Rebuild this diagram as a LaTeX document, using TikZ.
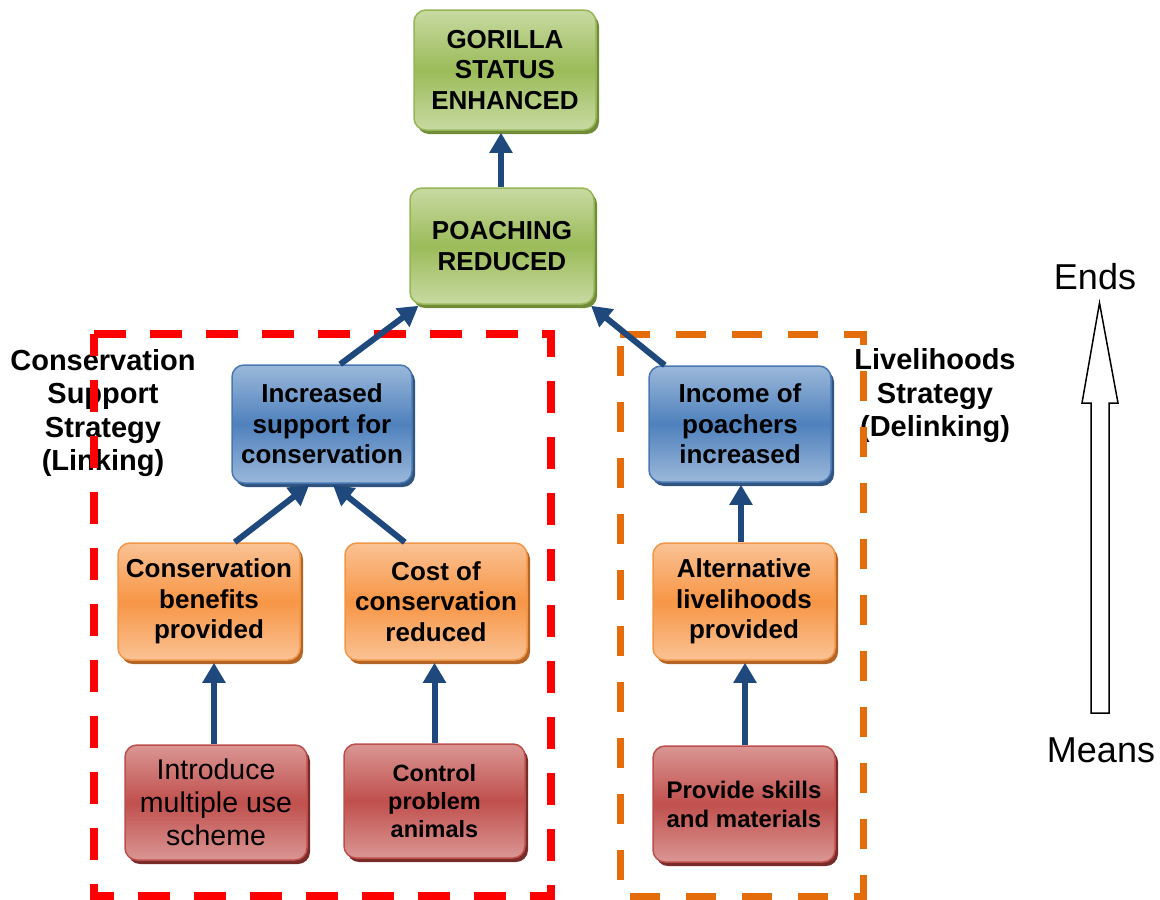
\documentclass[tikz,border=0pt]{standalone}
\usepackage{fontspec}
\setmainfont{Liberation Sans}
\usetikzlibrary{arrows.meta,shadows,calc}

\definecolor{gtop}{RGB}{200,218,162}
\definecolor{gmid}{RGB}{155,187,89}
\definecolor{gline}{RGB}{150,182,86}
\definecolor{gshade}{RGB}{112,140,56}
\definecolor{btop}{RGB}{155,184,218}
\definecolor{bmid}{RGB}{79,129,189}
\definecolor{bline}{RGB}{72,120,178}
\definecolor{bshade}{RGB}{50,84,128}
\definecolor{otop}{RGB}{250,194,148}
\definecolor{omid}{RGB}{247,150,70}
\definecolor{oline}{RGB}{240,150,72}
\definecolor{oshade}{RGB}{180,100,36}
\definecolor{rtop}{RGB}{218,150,148}
\definecolor{rmid}{RGB}{192,80,77}
\definecolor{rline}{RGB}{188,78,75}
\definecolor{rshade}{RGB}{120,44,42}
\definecolor{arrowblue}{RGB}{31,73,125}
\definecolor{linkred}{RGB}{255,0,0}
\definecolor{delinkorange}{RGB}{228,108,10}

\begin{document}
\begin{tikzpicture}[x=1pt,y=-1pt,
  box/.style={rounded corners=12pt, minimum width=182pt, minimum height=117pt,
    align=center, inner sep=2pt, line width=1.5pt,
    font=\bfseries\fontsize{26}{30.5}\selectfont},
  greenbox/.style={box, draw=gline, top color=gtop, bottom color=gtop, middle color=gmid,
    drop shadow={shadow xshift=3pt, shadow yshift=-4pt, opacity=1, fill=gshade}},
  bluebox/.style={box, draw=bline, top color=btop, bottom color=btop, middle color=bmid,
    drop shadow={shadow xshift=3pt, shadow yshift=-4pt, opacity=1, fill=bshade}},
  orangebox/.style={box, draw=oline, top color=otop, bottom color=otop, middle color=omid,
    drop shadow={shadow xshift=3pt, shadow yshift=-4pt, opacity=1, fill=oshade}},
  redbox/.style={box, draw=rline, top color=rtop, bottom color=rtop, middle color=rmid,
    drop shadow={shadow xshift=3pt, shadow yshift=-4pt, opacity=1, fill=rshade}},
  conn/.style={line width=6pt, draw=arrowblue, -{Triangle[width=22pt,length=20pt]}},
  sidelabel/.style={align=center, inner sep=0pt, font=\bfseries\fontsize{29}{33.5}\selectfont},
  scalelabel/.style={inner sep=0pt, font=\fontsize{36}{40}\selectfont}
]
\useasboundingbox (0,0) rectangle (1160,900);

% strategy labels
\node[sidelabel] (linklbl) at (103,413) {Conservation\\Support\\Strategy\\(Linking)};
\node[sidelabel] (delinklbl) at (935,396) {Livelihoods\\Strategy\\(Delinking)};

% strategy frames
\draw[linkred, line width=8pt, dash pattern=on 32pt off 24pt] (94,334) -- (551,334) -- (551,896) -- (94,896) -- cycle;
\draw[delinkorange, line width=7pt, dash pattern=on 30pt off 26pt] (620,334) -- (863,334) -- (863,896) -- (620,896) -- cycle;

% result chain
\node[greenbox, minimum width=182pt, minimum height=120pt] (gorilla) at (505,70) {GORILLA\\STATUS\\ENHANCED};
\node[greenbox, minimum width=184pt, minimum height=116pt] (poach) at (502,246) {POACHING\\REDUCED};
\node[bluebox, minimum width=180pt, minimum height=118pt] (inc) at (322,424) {Increased\\support for\\conservation};
\node[bluebox, minimum width=182pt, minimum height=116pt] (income) at (740,424) {Income of\\poachers\\increased};
\node[orangebox] (ben) at (209,601.5) {Conservation\\benefits\\provided};
\node[orangebox] (cost) at (436,601.5) {Cost of\\conservation\\reduced};
\node[orangebox] (alt) at (744,601.5) {Alternative\\livelihoods\\provided};
\node[redbox, minimum height=115pt, font=\mdseries\fontsize{28.5}{33}\selectfont] (intro) at (216,802.5) {Introduce\\multiple use\\scheme};
\node[redbox, minimum width=181pt, minimum height=114pt, font=\bfseries\fontsize{23.5}{28}\selectfont] (ctrl) at (434.5,801) {Control\\problem\\animals};
\node[redbox, minimum height=116pt, font=\bfseries\fontsize{24}{29}\selectfont] (prov) at (744,804) {Provide skills\\and materials};

% connectors
\draw[conn] ($(poach.north)+(-1,0)$) -- ($(gorilla.south)+(-4,2)$);
\draw[conn] ($(inc.north west)!0.6!(inc.north east)$) -- ($(poach.south west)!0.05!(poach.south east)+(0,1)$);
\draw[conn] ($(income.north west)!0.09!(income.north east)$) -- ($(poach.south west)!0.98!(poach.south east)+(0,1)$);
\draw[conn] ($(ben.north west)!0.64!(ben.north east)$) -- ($(inc.south west)!0.43!(inc.south east)+(0,1)$);
\draw[conn] ($(cost.north west)!0.33!(cost.north east)$) -- ($(inc.south west)!0.56!(inc.south east)+(0,1)$);
\draw[conn] ($(alt.north)+(-3,0)$) -- ($(income.south)+(1,2)$);
\draw[conn] ($(intro.north)+(-2,0)$) -- ($(ben.south)+(5,2)$);
\draw[conn] (ctrl.north) -- ($(ctrl.north |- cost.south)+(0,2)$);
\draw[conn] ($(prov.north)+(1,0)$) -- ($(alt.south)+(1,2)$);

% means-ends scale
\node[scalelabel] (ends) at (1095,277) {Ends};
\node[scalelabel] (means) at (1101,750) {Means};
\coordinate (tip) at (1099.5,303);
\coordinate (base) at (1100,713);
\draw[line width=1.5pt, fill=white, line join=miter]
  ($(base)+(-9,0)$) -- ($(base)+(-9,-310)$) -- ($(base)+(-18,-310)$) -- (tip)
  -- ($(base)+(18,-310)$) -- ($(base)+(9,-310)$) -- ($(base)+(9,0)$) -- cycle;
\end{tikzpicture}
\end{document}
